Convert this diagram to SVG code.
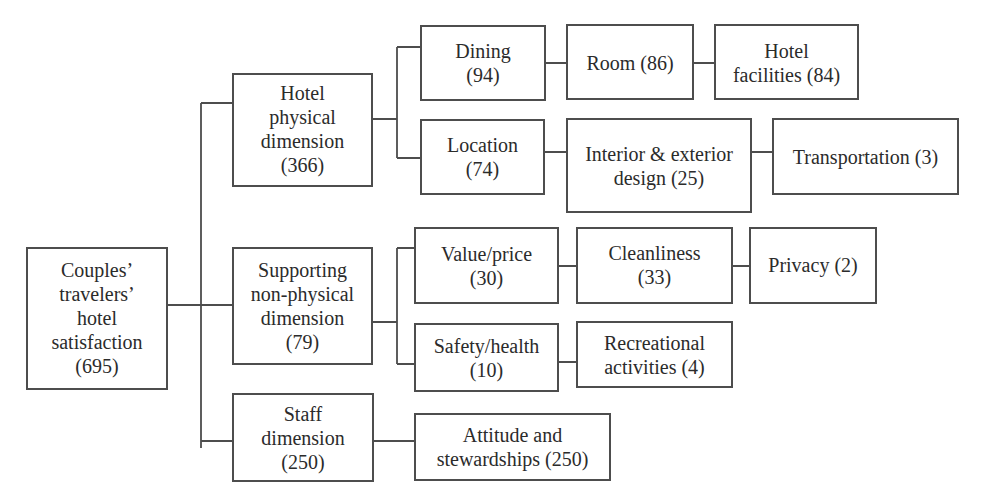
<svg xmlns="http://www.w3.org/2000/svg" width="982" height="503" viewBox="0 0 982 503">
<style>
.b{fill:#fff;stroke:#4d4d4d;stroke-width:2}
.c{fill:none;stroke:#4d4d4d;stroke-width:1.8}
.t text{font-family:"Liberation Serif","Times New Roman",Times,Tinos,"Noto Serif","DejaVu Serif",FreeSerif,serif;font-size:20px;fill:#2b2b2b;text-anchor:middle}
</style>
<rect width="982" height="503" fill="#fff"/>
<g id="connectors">
<path class="c" d="M167,305H233M201,103V448M201,103H233M201,441H233"/>
<path class="c" d="M372,119H397M397,47V158M397,47H421M397,158H421"/>
<path class="c" d="M545,63H567M693,63H715M544,152H567M751,152H773"/>
<path class="c" d="M372,322H397M397,248V364M397,248H415M397,364H415"/>
<path class="c" d="M558,266H577M732,266H750M558,362H577M373,441H415"/>
</g>
<g class="t">
<g id="root"><rect class="b" x="27" y="248" width="140" height="141"/>
<text x="97" y="277">Couples’</text><text x="97" y="301">travelers’</text><text x="97" y="325">hotel</text><text x="97" y="349">satisfaction</text><text x="97" y="373">(695)</text></g>
<g id="hotel-physical"><rect class="b" x="233" y="74" width="139" height="112"/>
<text x="302.5" y="100">Hotel</text><text x="302.5" y="124">physical</text><text x="302.5" y="148">dimension</text><text x="302.5" y="172">(366)</text></g>
<g id="supporting"><rect class="b" x="233" y="248" width="139" height="116"/>
<text x="302.5" y="277">Supporting</text><text x="302.5" y="301">non-physical</text><text x="302.5" y="325">dimension</text><text x="302.5" y="349">(79)</text></g>
<g id="staff"><rect class="b" x="233" y="394" width="140" height="87"/>
<text x="303" y="421">Staff</text><text x="303" y="445">dimension</text><text x="303" y="469">(250)</text></g>
<g id="dining"><rect class="b" x="421" y="26" width="124" height="74"/>
<text x="483" y="58">Dining</text><text x="483" y="82">(94)</text></g>
<g id="room"><rect class="b" x="567" y="25" width="126" height="74"/>
<text x="630" y="69.5">Room (86)</text></g>
<g id="facilities"><rect class="b" x="715" y="25" width="143" height="74"/>
<text x="786.5" y="57.5">Hotel</text><text x="786.5" y="81.5">facilities (84)</text></g>
<g id="location"><rect class="b" x="421" y="120" width="123" height="74"/>
<text x="482.5" y="152">Location</text><text x="482.5" y="176">(74)</text></g>
<g id="interior"><rect class="b" x="567" y="119" width="184" height="93"/>
<text x="659" y="161">Interior &amp; exterior</text><text x="659" y="185">design (25)</text></g>
<g id="transportation"><rect class="b" x="773" y="119" width="185" height="75"/>
<text x="865.5" y="164">Transportation (3)</text></g>
<g id="value"><rect class="b" x="415" y="228" width="143" height="75"/>
<text x="486.5" y="261">Value/price</text><text x="486.5" y="285">(30)</text></g>
<g id="cleanliness"><rect class="b" x="577" y="228" width="155" height="75"/>
<text x="654.5" y="260">Cleanliness</text><text x="654.5" y="284">(33)</text></g>
<g id="privacy"><rect class="b" x="750" y="228" width="126" height="75"/>
<text x="813" y="272">Privacy (2)</text></g>
<g id="safety"><rect class="b" x="415" y="324" width="143" height="67"/>
<text x="486.5" y="353">Safety/health</text><text x="486.5" y="377">(10)</text></g>
<g id="recreational"><rect class="b" x="577" y="322" width="155" height="65"/>
<text x="654.5" y="350">Recreational</text><text x="654.5" y="374">activities (4)</text></g>
<g id="attitude"><rect class="b" x="415" y="414" width="195" height="66"/>
<text x="512.5" y="442">Attitude and</text><text x="512.5" y="466">stewardships (250)</text></g>
</g>
</svg>
